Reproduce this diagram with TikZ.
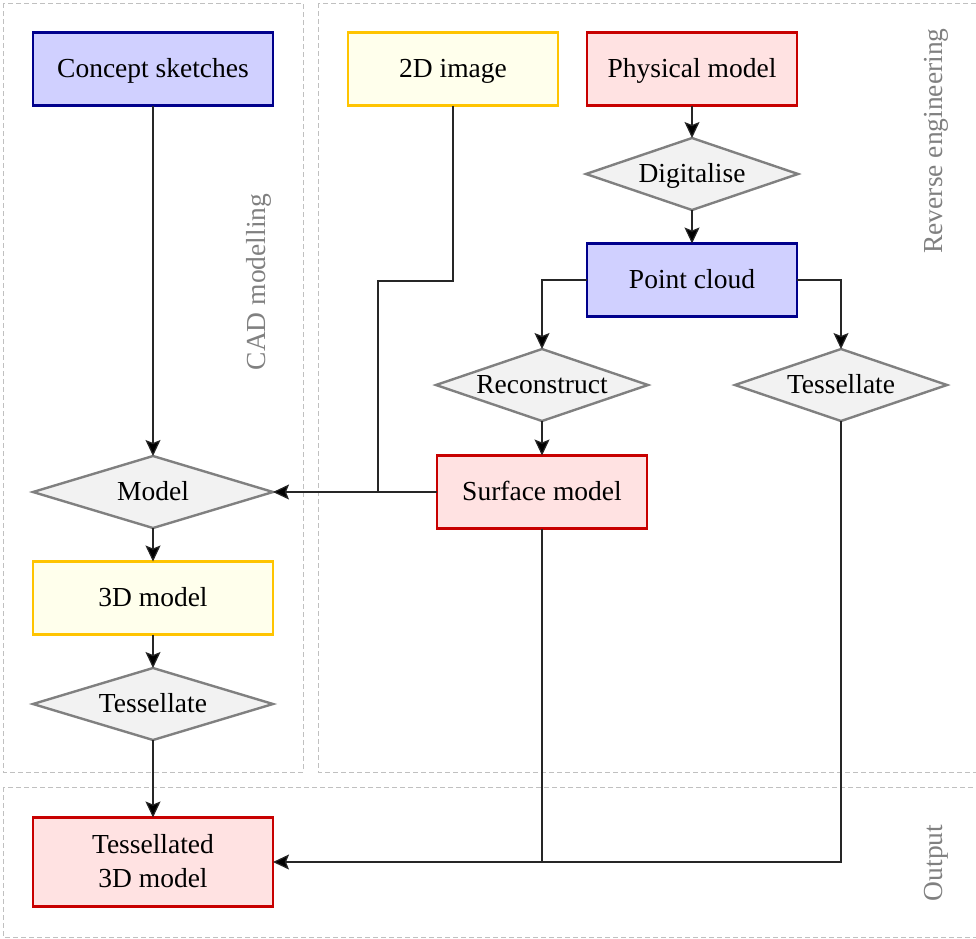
\documentclass[tikz,border=0pt]{standalone}
\usepackage{fontspec}
\setmainfont{Liberation Serif}
\usetikzlibrary{shapes.geometric,arrows.meta}
\definecolor{bluefill}{RGB}{208,208,255}
\definecolor{blueedge}{RGB}{0,0,140}
\definecolor{yellowfill}{RGB}{255,255,236}
\definecolor{yellowedge}{RGB}{255,196,0}
\definecolor{redfill}{RGB}{255,226,226}
\definecolor{rededge}{RGB}{200,0,0}
\definecolor{decfill}{RGB}{242,242,242}
\definecolor{decedge}{RGB}{128,128,128}
\definecolor{groupedge}{RGB}{192,192,192}
\definecolor{grouptext}{RGB}{128,128,128}
\begin{document}
\begin{tikzpicture}[x=1pt,y=-1pt,
  every node/.style={font=\fontsize{27.5}{34}\selectfont, inner sep=0pt, outer sep=0pt},
  box/.style={rectangle, line width=2.2pt, minimum width=210pt, minimum height=73pt,
    align=center, text depth=2pt},
  bluebox/.style={box, draw=blueedge, fill=bluefill},
  yellowbox/.style={box, draw=yellowedge, fill=yellowfill},
  redbox/.style={box, draw=rededge, fill=redfill},
  decision/.style={diamond, aspect=2.94, draw=decedge, fill=decfill, line width=2.4pt,
    minimum width=212pt, minimum height=72pt, text depth=2pt},
  wide/.style={minimum width=240pt},
  group/.style={draw=groupedge, line width=1pt, dash pattern=on 5pt off 3pt},
  grouplabel/.style={text=grouptext, rotate=90},
  link/.style={draw=black!85, line width=1.2pt},
  arr/.style={link, -{Stealth[length=16pt, width=15pt, inset=3pt, fill=black]}}]
\clip (0,0) rectangle (976,938);

% grouping frames
\draw[group] (3,3) rectangle (303,772);
\draw[group] (318,3) rectangle (990,772);
\draw[group] (3,787) rectangle (990,937);
\node[grouplabel] (labcad) at (259,282) {CAD modelling};
\node[grouplabel] (labre) at (936,141) {Reverse engineering};
\node[grouplabel] (labout) at (936,863) {Output};

% CAD modelling column
\node[bluebox, wide] (cs) at (153,69) {Concept sketches};
\node[decision, wide] (model) at (153,492) {Model};
\node[yellowbox, wide] (m3d) at (153,598) {3D model};
\node[decision, wide] (tessL) at (153,704) {Tessellate};

% reverse engineering
\node[yellowbox] (img) at (453,69) {2D image};
\node[redbox] (phys) at (692,69) {Physical model};
\node[decision] (dig) at (692,174) {Digitalise};
\node[bluebox] (pc) at (692,280) {Point cloud};
\node[decision] (rec) at (542,385) {Reconstruct};
\node[decision] (tessR) at (841,385) {Tessellate};
\node[redbox] (surf) at (542,492) {Surface model};

% output
\node[redbox, wide, minimum height=89pt] (out) at (153,862) {Tessellated\\3D model};

% connectors
\coordinate (j1) at (378,281);
\coordinate (j2) at (378,492);
\draw[arr] (cs) -- (model);
\draw[link] (img.south) |- (j1) -- (j2);
\draw[arr] (surf.west) -- (model.east);
\draw[arr] (phys) -- (dig);
\draw[arr] (dig) -- (pc);
\draw[arr] (pc.west) -| (rec.north);
\draw[arr] (pc.east) -| (tessR.north);
\draw[arr] (rec) -- (surf);
\draw[arr] (surf.south) |- (out.east);
\draw[link] (tessR.south) |- (surf.south |- out.east);
\draw[arr] (model) -- (m3d);
\draw[arr] (m3d) -- (tessL);
\draw[arr] (tessL) -- (out);
\end{tikzpicture}
\end{document}
